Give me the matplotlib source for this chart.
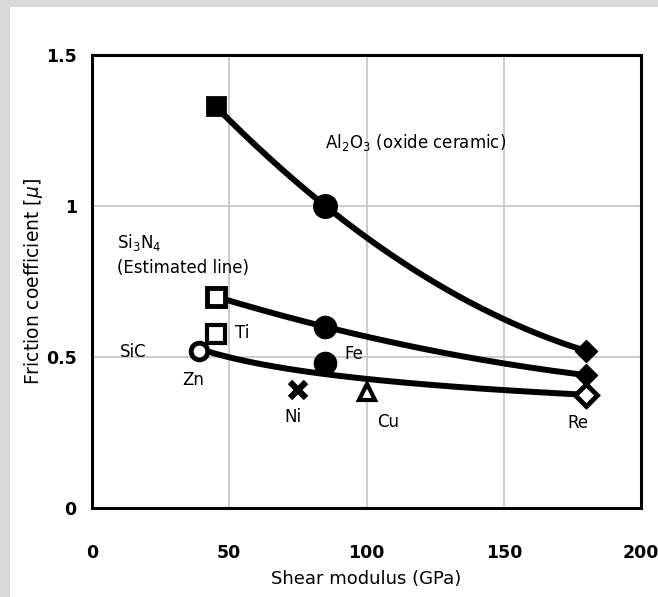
import numpy as np
import matplotlib
matplotlib.use("Agg")
import matplotlib.pyplot as plt
from matplotlib.patches import Rectangle

# ---- data ----
al2o3_G = [45, 85, 180]
al2o3_mu = [1.33, 1.00, 0.52]

si3n4_G = [45, 85, 180]
si3n4_mu = [0.70, 0.60, 0.44]

# SiC trend line
sic_line_G = [39, 85, 94, 149, 180]
sic_line_mu = [0.525, 0.445, 0.435, 0.395, 0.37]

# metals against SiC
metal_names = ["Zn", "Ti", "Fe", "Ni", "Cu", "Re"]
metal_G = [39, 45, 85, 75, 100, 180]
metal_mu = [0.52, 0.575, 0.48, 0.39, 0.385, 0.375]

x_ticks = [0, 50, 100, 150, 200]
y_ticks = [0, 0.5, 1, 1.5]
y_ticklabels = ["0", "0.5", "1", "1.5"]

fig = plt.figure(figsize=(6.58, 5.97), dpi=100)
fig.patch.set_facecolor("#d9d9d9")
fig.patches.append(Rectangle((10 / 658, 0), 1, 1 - 7 / 597, transform=fig.transFigure,
                             facecolor="white", edgecolor="none", zorder=-10))

ax = fig.add_axes([92 / 658, 1 - 508 / 597, (641 - 92) / 658, (508 - 55) / 597])
ax.set_xlim(0, 200)
ax.set_ylim(0, 1.5)
ax.set_xticks(x_ticks)
ax.set_yticks(y_ticks)
ax.set_yticklabels(y_ticklabels)
ax.grid(True, color="#c4c4c4", linewidth=1.2)
ax.set_axisbelow(True)
for s in ax.spines.values():
    s.set_linewidth(2.2)
    s.set_color("black")
ax.tick_params(length=0, labelsize=12.5)
ax.tick_params(axis="x", pad=26)
ax.tick_params(axis="y", pad=11)
for lab in ax.get_xticklabels() + ax.get_yticklabels():
    lab.set_fontweight("bold")

ax.set_xlabel("Shear modulus (GPa)", fontsize=13, labelpad=6)
ax.set_ylabel(r"Friction coefficient [$\mu$]", fontsize=13.5, labelpad=1)

lw = 4.3

def quad_curve(G, mu, x0, x1):
    c = np.polyfit(G, mu, 2)
    xs = np.linspace(x0, x1, 200)
    return xs, np.polyval(c, xs)

def power_curve(G, mu, x0, x1):
    c = np.polyfit(np.log(G), np.log(mu), 1)
    xs = np.linspace(x0, x1, 200)
    return xs, np.exp(np.polyval(c, np.log(xs)))

xs, ys = quad_curve(al2o3_G, al2o3_mu, al2o3_G[0], al2o3_G[-1])
ax.plot(xs, ys, color="black", lw=lw, zorder=2, solid_capstyle="round")
xs, ys = quad_curve(si3n4_G, si3n4_mu, si3n4_G[0], si3n4_G[-1])
ax.plot(xs, ys, color="black", lw=lw, zorder=2, solid_capstyle="round")
xs, ys = power_curve(sic_line_G, sic_line_mu, sic_line_G[0], sic_line_G[-1])
ax.plot(xs, ys, color="black", lw=lw, zorder=2, solid_capstyle="round")

# Al2O3 markers
ax.plot(al2o3_G[0], al2o3_mu[0], marker="s", ms=13, mfc="black", mec="black", mew=2, zorder=3)
ax.plot(al2o3_G[1], al2o3_mu[1], marker="o", ms=17, mfc="black", mec="black", zorder=3)
ax.plot(al2o3_G[2], al2o3_mu[2], marker="D", ms=11, mfc="black", mec="black", zorder=3)
# Si3N4 markers
ax.plot(si3n4_G[0], si3n4_mu[0], marker="s", ms=13, mfc="white", mec="black", mew=3.5, zorder=3)
ax.plot(si3n4_G[1], si3n4_mu[1], marker="o", ms=16, mfc="black", mec="black", zorder=3)
ax.plot(si3n4_G[2], si3n4_mu[2], marker="D", ms=11, mfc="black", mec="black", zorder=3)

# metal markers
styles = {
    "Zn": dict(marker="o", ms=12, mfc="white", mec="black", mew=3.5),
    "Ti": dict(marker="s", ms=13, mfc="white", mec="black", mew=3),
    "Fe": dict(marker="o", ms=16, mfc="black", mec="black"),
    "Ni": dict(marker="x", ms=12, mec="black", mew=4.5),
    "Cu": dict(marker="^", ms=11, mfc="white", mec="black", mew=3),
    "Re": dict(marker="D", ms=11, mfc="white", mec="black", mew=3.5),
}
for name, g, m in zip(metal_names, metal_G, metal_mu):
    ax.plot(g, m, zorder=4, **styles[name])

# labels
fs = 12
ax.text(85, 1.21, r"Al$_2$O$_3$ (oxide ceramic)", fontsize=fs, va="center", ha="left")
ax.text(9, 0.84, "Si$_3$N$_4$\n(Estimated line)", fontsize=fs, va="center", ha="left",
        linespacing=1.4)
ax.text(10, 0.515, "SiC", fontsize=fs, va="center", ha="left")
ax.text(52, 0.58, "Ti", fontsize=fs, va="center", ha="left")
ax.text(33, 0.425, "Zn", fontsize=fs, va="center", ha="left")
ax.text(92, 0.51, "Fe", fontsize=fs, va="center", ha="left")
ax.text(70, 0.30, "Ni", fontsize=fs, va="center", ha="left")
ax.text(104, 0.285, "Cu", fontsize=fs, va="center", ha="left")
ax.text(173, 0.28, "Re", fontsize=fs, va="center", ha="left")

fig.savefig("out.png", dpi=100, facecolor=fig.get_facecolor())
